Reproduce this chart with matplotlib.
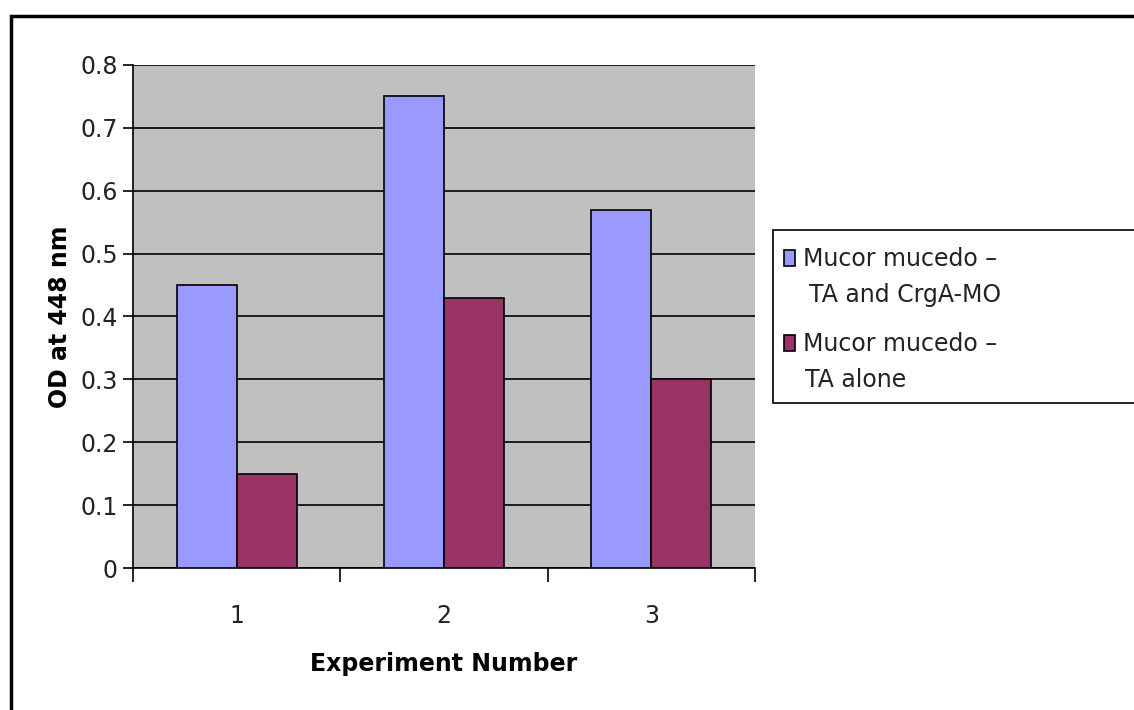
import numpy as np
import matplotlib.pyplot as plt
from matplotlib.patches import Rectangle

# OD readings per experiment
experiments = ['1', '2', '3']
crga_mo = [0.45, 0.75, 0.57]
ta_alone = [0.15, 0.43, 0.30]
series_labels = [['Mucor mucedo \u2013', 'TA and CrgA-MO'], ['Mucor mucedo \u2013', 'TA alone']]
colors = ['#9999FF', '#993366']
yticks = [0, 0.1, 0.2, 0.3, 0.4, 0.5, 0.6, 0.7, 0.8]

plt.rcParams['font.family'] = ['DejaVu Sans']

W, H = 1134, 710
fig = plt.figure(figsize=(W/100, H/100), dpi=100)
ax = fig.add_axes([133/W, 142/H, 622/W, 503/H])
ax.set_facecolor('#C0C0C0')

x = np.arange(len(experiments))
w = 0.29
ax.bar(x - w/2, crga_mo, w, color=colors[0], edgecolor='black', linewidth=1.2, zorder=3)
ax.bar(x + w/2, ta_alone, w, color=colors[1], edgecolor='black', linewidth=1.2, zorder=3)

ax.set_xlim(-0.5, 2.5)
ax.set_ylim(0, 0.8)
ax.set_yticks(yticks)
ax.set_yticklabels(['0'] + ['%.1f' % v for v in yticks[1:]])
ax.yaxis.grid(True, color='black', linewidth=1.2, zorder=1)
ax.set_axisbelow(True)

# category ticks sit between the groups, labels at the group centres
ax.set_xticks([-0.5, 0.5, 1.5, 2.5])
ax.set_xticklabels([])
ax.set_xticks(x, minor=True)
ax.set_xticklabels(experiments, minor=True)
ax.tick_params(axis='x', which='major', direction='out', length=10, width=1.2)
ax.tick_params(axis='x', which='minor', length=0, pad=26, labelsize=17, labelcolor='#222222')
ax.tick_params(axis='y', direction='out', length=7, width=1.2, labelsize=17, pad=4, labelcolor='#222222')

for side in ['top', 'right']:
    ax.spines[side].set_visible(False)
for side in ['left', 'bottom']:
    ax.spines[side].set_linewidth(1.2)

ax.set_ylabel('OD at 448 nm', fontsize=17, fontweight='bold', labelpad=6)
ax.set_xlabel('Experiment Number', fontsize=17, fontweight='bold', labelpad=17)

# legend box runs off the right edge
fig.patches.append(Rectangle((773/W, (H-403)/H), 0.5, 173/H,
                             transform=fig.transFigure, facecolor='white',
                             edgecolor='black', linewidth=1.2, zorder=0))
handle_tops = [250, 335]
line_baselines = [[266, 302], [351, 387]]
line_x = [[803, 809], [803, 805]]
for i, lines in enumerate(series_labels):
    fig.patches.append(Rectangle((784/W, (H - handle_tops[i] - 16)/H), 11/W, 16/H,
                                 transform=fig.transFigure, facecolor=colors[i],
                                 edgecolor='black', linewidth=1.2, zorder=2))
    for j, line in enumerate(lines):
        fig.text(line_x[i][j]/W, (H - line_baselines[i][j])/H, line,
                 fontsize=17, va='baseline', ha='left', color='#222222')

# outer chart border (only top and left fall inside the image)
fig.patches.append(Rectangle((11/W, -0.5), 1.5, 1.5 - 16/H,
                             transform=fig.transFigure, facecolor='none',
                             edgecolor='black', linewidth=2.5, zorder=0))

fig.savefig('out.png', dpi=100)
